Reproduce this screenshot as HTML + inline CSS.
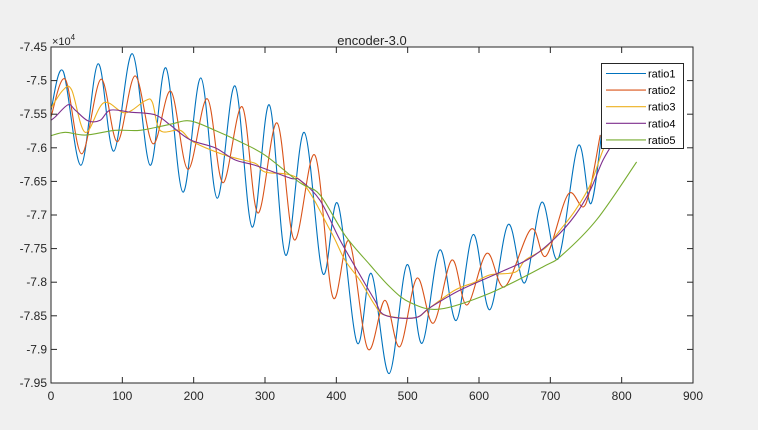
<!DOCTYPE html>
<html><head><meta charset="utf-8"><style>
body{margin:0;background:#f0f0f0;}
svg{display:block;font-family:"Liberation Sans",sans-serif;}
</style></head><body>
<svg id="chart" width="758" height="430">
<rect x="0" y="0" width="758" height="430" fill="#f0f0f0"/>
<rect x="51" y="47" width="642" height="336" fill="#fff"/>
<text x="372" y="45" font-size="13" text-anchor="middle" fill="#262626">encoder-3.0</text>
<text x="52" y="45" font-size="11" fill="#262626">×10<tspan dy="-5" font-size="8">4</tspan></text>
<g id="series"></g>
<g id="axes"></g>
<g id="legend"></g>
</svg>
<script>
const xTicks=[0,100,200,300,400,500,600,700,800,900];
const yTicks=[-7.45,-7.5,-7.55,-7.6,-7.65,-7.7,-7.75,-7.8,-7.85,-7.9,-7.95];
const yTickLabels=["-7.45","-7.5","-7.55","-7.6","-7.65","-7.7","-7.75","-7.8","-7.85","-7.9","-7.95"];
const seriesNames=["ratio1","ratio2","ratio3","ratio4","ratio5"];
const r1x=[0,17,42,66,88,114,139,161,185,210,233,258,282,306,329,355,381,402,429,449,474,499,520,545,568,592,615,641,664,688,711,739,757,774];
const r1y=[-7.544,-7.486,-7.626,-7.475,-7.605,-7.460,-7.626,-7.481,-7.666,-7.496,-7.675,-7.508,-7.718,-7.536,-7.760,-7.577,-7.787,-7.683,-7.890,-7.787,-7.936,-7.774,-7.891,-7.752,-7.857,-7.729,-7.841,-7.714,-7.801,-7.681,-7.765,-7.597,-7.683,-7.559];
const r2x=[0,20,43,70,93,118,143,168,192,219,241,268,290,317,341,370,395,418,444,468,489,513,536,562,583,611,636,673,694,725,749,770];
const r2y=[-7.554,-7.498,-7.609,-7.498,-7.591,-7.493,-7.594,-7.516,-7.632,-7.527,-7.652,-7.539,-7.697,-7.563,-7.737,-7.611,-7.822,-7.739,-7.899,-7.827,-7.896,-7.794,-7.861,-7.767,-7.834,-7.757,-7.807,-7.721,-7.761,-7.669,-7.685,-7.581];
const r3x=[0,17,29,48,74,104,132,142,153,181,199,244,286,300,349,391,412,433,454,468,510,531,566,594,616,651,665,693,714,735,756,774,791];
const r3y=[-7.541,-7.514,-7.514,-7.577,-7.533,-7.548,-7.530,-7.532,-7.574,-7.574,-7.591,-7.611,-7.623,-7.636,-7.648,-7.722,-7.767,-7.797,-7.834,-7.849,-7.853,-7.838,-7.812,-7.800,-7.789,-7.785,-7.767,-7.749,-7.722,-7.693,-7.655,-7.603,-7.566];
const r4x=[0,6,24,34,52,69,83,111,146,167,195,230,258,286,335,349,377,405,433,454,468,510,531,573,630,672,707,735,756,774,795];
const r4y=[-7.559,-7.554,-7.536,-7.544,-7.560,-7.559,-7.544,-7.547,-7.551,-7.566,-7.588,-7.600,-7.618,-7.626,-7.645,-7.648,-7.678,-7.737,-7.789,-7.827,-7.849,-7.853,-7.838,-7.812,-7.785,-7.764,-7.734,-7.700,-7.663,-7.618,-7.581];
const r5x=[0,20,48,90,125,167,195,230,265,300,349,377,412,447,475,503,545,616,690,716,765,821];
const r5y=[-7.582,-7.577,-7.581,-7.574,-7.574,-7.565,-7.560,-7.574,-7.591,-7.611,-7.652,-7.670,-7.730,-7.774,-7.807,-7.830,-7.840,-7.816,-7.777,-7.760,-7.707,-7.621];
const colors=["#0072BD","#D95319","#EDB120","#7E2F8E","#77AC30"];
const NS="http://www.w3.org/2000/svg";
const L=51,R=693,T=47,B=383;
function sx(v){return L+(v-0)/(900-0)*(R-L);}
function sy(v){return T+(-7.45-v)/(0.5)*(B-T);}
function mk(tag,attrs,parent){const e=document.createElementNS(NS,tag);for(const k in attrs)e.setAttribute(k,attrs[k]);parent.appendChild(e);return e;}
function pathFor(xs,ys){
  const p=xs.map((x,i)=>[sx(x),sy(ys[i])]);
  let d="M"+p[0][0].toFixed(2)+","+p[0][1].toFixed(2);
  for(let i=0;i<p.length-1;i++){
    const p0=p[i-1]||p[i],p1=p[i],p2=p[i+1],p3=p[i+2]||p2;
    const c1=[p1[0]+(p2[0]-p0[0])/6,p1[1]+(p2[1]-p0[1])/6];
    const c2=[p2[0]-(p3[0]-p1[0])/6,p2[1]-(p3[1]-p1[1])/6];
    d+="C"+c1[0].toFixed(2)+","+c1[1].toFixed(2)+" "+c2[0].toFixed(2)+","+c2[1].toFixed(2)+" "+p2[0].toFixed(2)+","+p2[1].toFixed(2);
  }
  return d;
}
const sg=document.getElementById('series');
const allX=[r1x,r2x,r3x,r4x,r5x],allY=[r1y,r2y,r3y,r4y,r5y];
for(let s=0;s<5;s++){
  const el=mk('path',{d:pathFor(allX[s],allY[s]),fill:"none",stroke:colors[s],"stroke-width":"1.1"},sg);
  
  
}
const ag=document.getElementById('axes');
const box=mk('rect',{x:L,y:T,width:R-L,height:B-T,fill:"none",stroke:"#262626","stroke-width":"1"},ag);


xTicks.forEach((v,i)=>{
  const x=sx(v);
  mk('line',{x1:x,y1:B,x2:x,y2:B-6,stroke:"#262626"},ag);
  mk('line',{x1:x,y1:T,x2:x,y2:T+6,stroke:"#262626"},ag);
  const t=mk('text',{x:x,y:B+17,"font-size":"12","text-anchor":"middle",fill:"#262626"},ag);
  t.textContent=String(v);
  
  
});
yTicks.forEach((v,i)=>{
  const y=sy(v);
  mk('line',{x1:L,y1:y,x2:L+6,y2:y,stroke:"#262626"},ag);
  mk('line',{x1:R,y1:y,x2:R-6,y2:y,stroke:"#262626"},ag);
  const t=mk('text',{x:L-4,y:y+4,"font-size":"12","text-anchor":"end",fill:"#262626"},ag);
  t.textContent=yTickLabels[i];
  
  
});
const lg=document.getElementById('legend');
mk('rect',{x:601.5,y:63.5,width:82,height:85,fill:"#fff",stroke:"#262626","stroke-width":"1"},lg);
seriesNames.forEach((n,i)=>{
  const y=73.5+i*16.6;
  const ln=mk('line',{x1:606,y1:y,x2:646,y2:y,stroke:colors[i],"stroke-width":"1.1"},lg);
  
  
  const t=mk('text',{x:648,y:y+4,"font-size":"11",fill:"#000"},lg);
  t.textContent=n;
  
  
});
</script>
</body></html>
